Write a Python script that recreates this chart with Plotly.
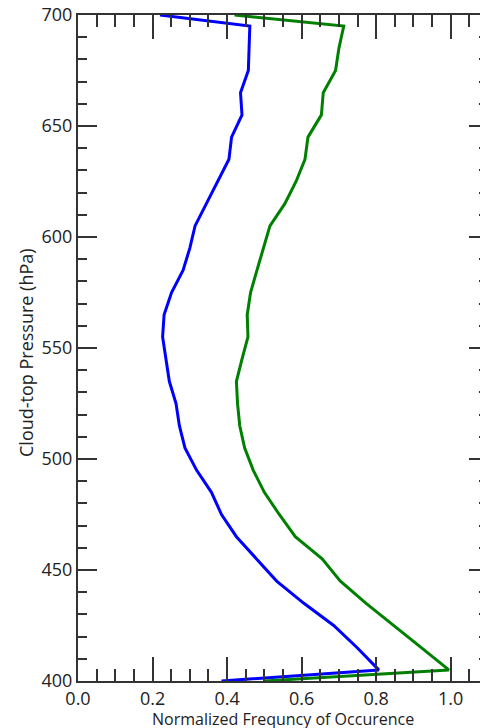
import plotly.graph_objects as go

pressure = [400, 405, 415, 425, 435, 445, 455, 465, 475, 485, 495, 505, 515, 525, 535, 545,
            555, 565, 575, 585, 595, 605, 615, 625, 635, 645, 655, 665, 675, 685, 695, 700]

blue_freq = [0.385, 0.807, 0.749, 0.686, 0.606, 0.533, 0.479, 0.425, 0.385, 0.358, 0.318,
             0.287, 0.272, 0.263, 0.245, 0.236, 0.227, 0.231, 0.251, 0.282, 0.300, 0.314,
             0.345, 0.375, 0.405, 0.412, 0.440, 0.436, 0.457, 0.459, 0.461, 0.22]

green_freq = [0.50, 0.995, 0.921, 0.847, 0.773, 0.704, 0.655, 0.583, 0.540, 0.500, 0.470,
              0.447, 0.434, 0.428, 0.425, 0.440, 0.456, 0.454, 0.463, 0.480, 0.497, 0.515,
              0.555, 0.585, 0.609, 0.617, 0.653, 0.658, 0.691, 0.700, 0.713, 0.42]

x_ticks = [0.0, 0.2, 0.4, 0.6, 0.8, 1.0]
x_ticklabels = ["0.0", "0.2", "0.4", "0.6", "0.8", "1.0"]
y_ticks = [400, 450, 500, 550, 600, 650, 700]

x_title = "Normalized Frequncy of Occurence"
y_title = "Cloud-top Pressure (hPa)"

fig = go.Figure()
fig.add_trace(go.Scatter(x=blue_freq, y=pressure, mode="lines",
                         line=dict(color="#0000ff", width=3), showlegend=False))
fig.add_trace(go.Scatter(x=green_freq, y=pressure, mode="lines",
                         line=dict(color="#008000", width=3), showlegend=False))

axis_col = "#333333"
font_fam = "Open Sans, DejaVu Sans, sans-serif"

# The page body has an 8px margin, so the figure is sized/offset to compensate.
fig.update_layout(
    width=480, height=720,
    margin=dict(l=70, r=0, t=7, b=47),
    paper_bgcolor="white", plot_bgcolor="white",
    font=dict(family=font_fam, color="#222222", size=18),
    xaxis=dict(
        range=[0, 1.1], tickvals=x_ticks, ticktext=x_ticklabels,
        ticks="inside", ticklen=24, tickwidth=2, tickcolor=axis_col,
        showline=True, linecolor=axis_col, linewidth=2, mirror="allticks",
        showgrid=False, zeroline=False, automargin=False, ticklabeloverflow="allow",
        minor=dict(dtick=0.05, ticks="inside", ticklen=12, tickwidth=2, tickcolor=axis_col, showgrid=False),
        tickfont=dict(size=18),
    ),
    yaxis=dict(
        range=[400, 700], tickvals=y_ticks,
        ticks="inside", ticklen=19, tickwidth=2, tickcolor=axis_col,
        showline=True, linecolor=axis_col, linewidth=2, mirror="allticks",
        showgrid=False, zeroline=False, automargin=False, ticklabeloverflow="allow",
        minor=dict(dtick=10, ticks="inside", ticklen=9, tickwidth=2, tickcolor=axis_col, showgrid=False),
        tickfont=dict(size=18),
    ),
    annotations=[
        dict(text=x_title, xref="paper", yref="paper", x=0.5, y=0, yshift=-38,
             xanchor="center", yanchor="middle", showarrow=False, font=dict(size=16)),
        dict(text=y_title, xref="paper", yref="paper", x=0, y=0.5, xshift=-52, yshift=-5,
             xanchor="center", yanchor="middle", textangle=-90, showarrow=False, font=dict(size=18)),
    ],
)

fig.write_html("out.html")
